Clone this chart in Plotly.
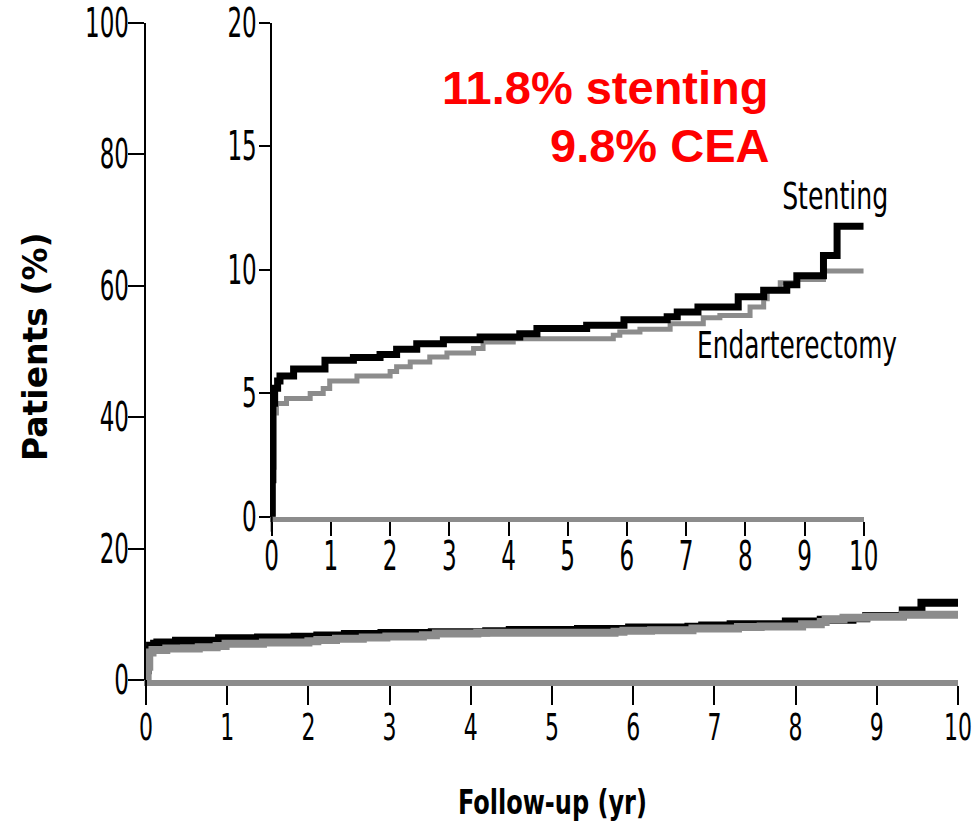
import plotly.graph_objects as go

# ---- data ----
stent_x = [0, 0.01, 0.02, 0.05, 0.10, 0.14, 0.37, 0.90, 1.38, 1.83, 2.11, 2.45, 2.90, 3.52,
           4.19, 4.48, 5.32, 5.95, 6.68, 6.85, 7.20, 7.88, 8.31, 8.70, 8.87, 9.32, 9.55, 10.0]
stent_y = [0, 1.5, 4.6, 5.2, 5.5, 5.7, 5.98, 6.34, 6.45, 6.57, 6.78, 7.01, 7.17, 7.28,
           7.41, 7.62, 7.75, 7.98, 8.10, 8.29, 8.49, 8.91, 9.17, 9.40, 9.76, 10.58, 11.77, 11.77]

cea_x = [0, 0.02, 0.04, 0.08, 0.25, 0.65, 0.87, 0.98, 1.44, 2.00, 2.11, 2.34, 2.67, 2.96,
         3.41, 3.57, 4.08, 5.77, 5.88, 6.22, 6.73, 7.29, 7.57, 8.08, 8.31, 8.37, 8.59, 8.87,
         9.32, 10.0]
cea_y = [0, 2.0, 4.2, 4.58, 4.79, 4.99, 5.19, 5.50, 5.70, 5.88, 6.07, 6.27, 6.47, 6.63,
         6.81, 7.08, 7.21, 7.35, 7.48, 7.59, 7.82, 8.06, 8.15, 8.49, 8.83, 9.19, 9.48, 9.61,
         9.95, 9.95]

x_ticks = list(range(0, 11))
main_y_ticks = [0, 20, 40, 60, 80, 100]
inset_y_ticks = [0, 5, 10, 15, 20]

NARROW = "DejaVu Sans Condensed, DejaVu Sans, sans-serif"
ARIAL = "Liberation Sans, Arial, sans-serif"
GRAY = "#8c8c8c"

fig = go.Figure()

# main panel
fig.add_trace(go.Scatter(x=stent_x, y=stent_y, mode="lines", line=dict(color="black", width=8, shape="hv"),
                         xaxis="x", yaxis="y", showlegend=False, hoverinfo="skip"))
fig.add_trace(go.Scatter(x=cea_x, y=cea_y, mode="lines", line=dict(color=GRAY, width=8, shape="hv"),
                         xaxis="x", yaxis="y", showlegend=False, hoverinfo="skip"))
# inset
fig.add_trace(go.Scatter(x=cea_x, y=cea_y, mode="lines", line=dict(color=GRAY, width=5, shape="hv"),
                         xaxis="x2", yaxis="y2", showlegend=False, hoverinfo="skip"))
fig.add_trace(go.Scatter(x=stent_x, y=stent_y, mode="lines", line=dict(color="black", width=7, shape="hv"),
                         xaxis="x2", yaxis="y2", showlegend=False, hoverinfo="skip"))

PH = 657.0
tickfont = dict(family=NARROW, size=40, color="black")
common = dict(showgrid=False, zeroline=False, ticks="outside",
              tickwidth=2, tickcolor="black", ticklabeloverflow="allow")

fig.update_layout(
    width=978, height=833,
    margin=dict(l=146, r=20, t=23, b=153, autoexpand=False),
    paper_bgcolor="white", plot_bgcolor="rgba(0,0,0,0)",
    xaxis=dict(range=[0, 10], domain=[0, 1], anchor="y", tickvals=x_ticks,
               showline=True, linecolor=GRAY, linewidth=6, ticklen=19,
               tickfont=dict(family=NARROW, size=37, color="black"),
               ticklabelstandoff=-9, **common),
    yaxis=dict(range=[0, 100], domain=[0, 1], anchor="x", tickvals=main_y_ticks,
               showline=True, linecolor="black", linewidth=2, ticklen=16,
               tickfont=tickfont, ticklabelstandoff=-9, **common),
    xaxis2=dict(range=[0, 10], domain=[0.1548, 0.8839], anchor="y2", tickvals=x_ticks,
                showline=True, linecolor=GRAY, linewidth=5, ticklen=14,
                tickfont=tickfont, ticklabelstandoff=-14, **common),
    yaxis2=dict(range=[0, 20], domain=[0.2486, 1.0], anchor="x2", tickvals=inset_y_ticks,
                showline=True, linecolor="black", linewidth=2, ticklen=11,
                tickfont=tickfont, ticklabelstandoff=-6, **common),
)

# axis line extensions below the x axes
fig.add_shape(type="line", xref="paper", yref="paper", x0=0, x1=0, y0=0, y1=-21 / PH,
              line=dict(color="black", width=2))
fig.add_shape(type="line", xref="paper", yref="paper", x0=0.1548, x1=0.1548, y0=0.2486,
              y1=0.2486 - 15 / PH, line=dict(color="black", width=2))

def py(p):
    return 1 - (p - 23) / PH

def px(p):
    return (p - 146) / 812.0

red = dict(family=ARIAL, size=47, color="#ff0000", weight="bold")
ann = [
    dict(text="11.8% stenting", x=px(771), y=py(87), xanchor="right", yanchor="middle", font=red),
    dict(text="9.8% CEA", x=px(771), y=py(146), xanchor="right", yanchor="middle", font=red),
    dict(text="Stenting", x=px(835), y=py(196), xanchor="center", yanchor="middle",
         font=dict(family=NARROW, size=37, color="black")),
    dict(text="Endarterectomy", x=px(797), y=py(346), xanchor="center", yanchor="middle",
         font=dict(family=NARROW, size=37, color="black")),
    dict(text="<b>Patients (%)</b>", x=px(35), y=py(347), xanchor="center",
         yanchor="middle", textangle=-90, font=dict(family="DejaVu Sans", size=33, color="black")),
    dict(text="<b>Follow-up (yr)</b>", x=px(552), y=py(802), xanchor="center",
         yanchor="middle", font=dict(family=NARROW, size=34, color="black")),
]
for a in ann:
    a.update(showarrow=False, xref="paper", yref="paper")
fig.update_layout(annotations=ann)

squeeze_js = """
var gd = document.getElementById('{plot_id}');
function sq(t, len){
  t.setAttribute('textLength', len.toFixed(1));
  t.setAttribute('lengthAdjust', 'spacingAndGlyphs');
  t.setAttribute('data-sq', '1');
}
function squeeze(){
  gd.querySelectorAll('.ytick text, .x2tick text, .y2tick text').forEach(function(t){
    if(!t.getAttribute('data-sq')){ sq(t, t.getComputedTextLength()*0.64); }
  });
  gd.querySelectorAll('.xtick text').forEach(function(t){
    if(!t.getAttribute('data-sq')){ sq(t, t.getComputedTextLength()*0.66); }
  });
  var targets = {'Stenting':106, 'Endarterectomy':200, 'Follow-up (yr)':189};
  gd.querySelectorAll('text.annotation-text').forEach(function(t){
    var s = t.textContent;
    if(targets[s] && !t.getAttribute('data-sq')){ sq(t, targets[s]); }
  });
}
squeeze();
gd.on('plotly_afterplot', squeeze);
"""

fig.write_html("out.html", post_script=squeeze_js)
